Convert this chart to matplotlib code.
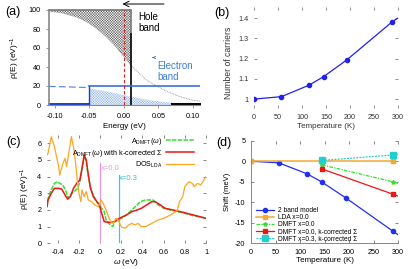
import matplotlib
matplotlib.use("Agg")
import matplotlib.pyplot as plt

plt.rcParams['font.family'] = ['Liberation Sans', 'DejaVu Sans']
plt.rcParams['hatch.linewidth'] = 0.3
plt.rcParams['mathtext.fontset'] = 'custom'
plt.rcParams['mathtext.rm'] = 'Liberation Sans'
plt.rcParams['mathtext.it'] = 'Liberation Sans:italic'

# ---------------- panel (a) data ----------------
E_fermi = [-0.11, -0.10, -0.09, -0.08, -0.07, -0.06, -0.05, -0.04, -0.03, -0.02, -0.01,
           0.0, 0.01, 0.02, 0.03, 0.04, 0.05, 0.06, 0.07, 0.08, 0.09, 0.10, 0.11]
occ_hole = [99, 98, 97, 95, 93, 90, 86, 81, 75, 68, 60,
            51, 42, 35, 28, 23, 19, 15, 12, 9, 7, 5, 4]
E_el = [-0.05, -0.04, -0.03, -0.02, -0.01, 0.0, 0.01, 0.02, 0.03, 0.04, 0.05,
        0.06, 0.07, 0.08, 0.09, 0.10, 0.11]
occ_el = [17.5, 16.2, 15.0, 13.6, 12.0, 10.5, 8.8, 7.3, 6.0, 4.8, 3.8,
          3.0, 2.3, 1.8, 1.4, 1.0, 0.8]
hole_edge = 0.01
el_edge = -0.05
hole_dos = 100
el_dos = 20

# ---------------- panel (b) data ----------------
T_b = [0, 57, 115, 145, 193, 288, 300]
N_b = [1.0, 1.012, 1.069, 1.111, 1.193, 1.382, 1.40]

# ---------------- panel (c) data ----------------
w_lda = [-0.5, -0.49, -0.46, -0.43, -0.39, -0.38, -0.35, -0.33, -0.315, -0.29, -0.27, -0.245,
         -0.23, -0.21, -0.195, -0.18, -0.17, -0.15, -0.13, -0.11, -0.08, -0.05, -0.016, 0.01,
         0.03, 0.057, 0.08, 0.10, 0.126, 0.15, 0.17, 0.205, 0.24, 0.27, 0.30, 0.33, 0.36,
         0.39, 0.43, 0.46, 0.49, 0.52, 0.55, 0.60, 0.65, 0.69, 0.73, 0.75, 0.78, 0.80, 0.84,
         0.87, 0.89, 0.92, 0.95, 0.98, 1.0]
dos_lda = [5.3, 5.4, 6.4, 5.8, 4.6, 4.1, 4.8, 5.1, 4.6, 5.6, 6.4, 5.6,
           4.8, 3.5, 2.9, 2.5, 3.2, 2.8, 3.1, 2.6, 2.5, 2.3, 2.2, 2.6,
           2.4, 2.0, 1.6, 1.3, 1.2, 1.5, 1.4, 0.96, 0.9, 1.1, 1.2, 1.1, 1.2,
           1.0, 1.0, 1.1, 1.2, 1.3, 1.4, 1.5, 1.65, 1.8, 2.0, 2.5, 2.8, 3.4, 3.7,
           3.6, 3.4, 3.6, 3.5, 3.8, 4.0]
w_dmft = [-0.5, -0.49, -0.46, -0.43, -0.40, -0.38, -0.35, -0.32, -0.30, -0.28, -0.245, -0.21,
          -0.19, -0.17, -0.15, -0.13, -0.12, -0.095, -0.07, -0.04, -0.006, 0.016, 0.04,
          0.057, 0.08, 0.10, 0.12, 0.14, 0.17, 0.205, 0.25, 0.30, 0.35, 0.38, 0.43, 0.47,
          0.50, 0.55, 0.60, 0.66, 0.73, 0.80, 0.88, 0.95, 1.0]
a_dmft = [2.2, 2.7, 3.2, 3.6, 3.7, 3.6, 3.5, 3.1, 2.7, 2.9, 3.1, 3.3,
          3.7, 4.4, 5.1, 5.0, 4.4, 3.5, 3.0, 2.6, 2.3, 2.1, 1.9,
          1.4, 1.2, 1.1, 1.0, 1.3, 1.4, 1.5, 1.7, 2.0, 2.3, 2.5, 2.6, 2.6,
          2.6, 2.3, 2.1, 2.0, 1.9, 1.8, 1.65, 1.57, 1.5]
w_kc = [-0.5, -0.49, -0.46, -0.43, -0.39, -0.36, -0.33, -0.305, -0.28, -0.25, -0.22, -0.19,
        -0.17, -0.15, -0.13, -0.11, -0.09, -0.063, -0.03, -0.006, 0.016, 0.04, 0.07, 0.10,
        0.135, 0.17, 0.205, 0.25, 0.30, 0.35, 0.39, 0.44, 0.49, 0.52, 0.57, 0.615, 0.69,
        0.79, 0.88, 1.0]
a_kc = [2.2, 2.6, 3.0, 3.3, 3.3, 3.25, 2.9, 2.65, 2.8, 3.3, 3.6, 3.8,
        4.5, 5.3, 5.0, 4.1, 3.3, 2.8, 2.5, 2.3, 1.8, 1.3, 1.27, 1.25,
        1.3, 1.45, 1.57, 1.7, 1.9, 2.0, 2.1, 2.3, 2.5, 2.5, 2.3, 2.1, 2.0,
        1.85, 1.7, 1.5]
x00_pos, x00_top = 0.0, 4.8
x03_pos, x03_top = 0.175, 4.1

# ---------------- panel (d) data ----------------
T_2band = [0, 57, 115, 145, 193, 289, 300]
S_2band = [0, -0.4, -3.1, -5.1, -8.9, -17.0, -17.9]
T_lda = [0, 289]
S_lda = [0, 0]
T_dmft = [145, 289, 300]
S_dmft0 = [-0.9, -5.0, -5.4]
S_dmft0k = [-1.9, -8.0, -8.5]
S_dmft3k = [0.2, 1.5, 1.7]

W, H = 415, 269
fig = plt.figure(figsize=(W / 100, H / 100), dpi=100)


def rect(l, r, t, b):
    return [l / W, 1 - b / H, (r - l) / W, (b - t) / H]


TS = 5.2
# ================= (a) =================
axa = fig.add_axes(rect(49, 200, 10, 105))
axa.set_xlim(-0.108, 0.11)
axa.set_ylim(0, 100)
Eh = [e for e in E_fermi if e <= hole_edge + 1e-9]
vh = occ_hole[:len(Eh)]
axa.fill_between(Eh, vh, hole_dos, facecolor='none', edgecolor='#555555',
                 hatch='x' * 13, linewidth=0)
axa.fill_between(E_el, 0, occ_el, facecolor='none', edgecolor='#8ab0ee',
                 hatch='x' * 13, linewidth=0)
axa.plot(E_fermi, occ_hole, color='#888888', lw=0.6, ls=(0, (1, 1)))
axa.plot([-0.108, hole_edge], [hole_dos, hole_dos], color='#777777', lw=1.2, clip_on=False)
axa.plot([hole_edge, hole_edge], [75, hole_dos], color='#777777', lw=1.2)
axa.plot([hole_edge, hole_edge], [0, 75], color='black', lw=1.2)
axa.plot([-0.108, el_edge], [0.6, 0.6], color='#1a3fd0', lw=1.4, clip_on=False)
axa.plot([el_edge, el_edge], [0, el_dos], color='#1a3fd0', lw=1.0)
axa.plot([el_edge, 0.11], [el_dos, el_dos], color='#3a6fe0', lw=1.2)
axa.plot([-0.108, el_edge], [19.6, 18.4], color='#4a7fe6', lw=0.8, ls=(0, (6, 3)))
axa.plot([0.07, 0.11], [0.6, 0.6], color='black', lw=1.4, clip_on=False)
axa.plot([0, 0], [0, 100], color='#e02020', lw=0.8, ls=(0, (3, 2)))
axa.annotate('', xy=(-0.006, 106.3), xytext=(0.062, 106.3), annotation_clip=False,
             arrowprops=dict(arrowstyle='->', color='black', lw=0.7))
axa.annotate('', xy=(0.037, 50), xytext=(0.046, 50), annotation_clip=False,
             arrowprops=dict(arrowstyle='->', color='#3d7be0', lw=0.7, mutation_scale=4))
axa.text(0.021, 98, 'Hole\nband', fontsize=7, va='top', ha='left', linespacing=1.15)
axa.text(0.049, 46, 'Electron\nband', fontsize=7, va='top', ha='left', color='#3d7be0',
         linespacing=1.15)
for s in ['top', 'right']:
    axa.spines[s].set_visible(False)
axa.spines['left'].set_color('#888888')
axa.spines['left'].set_linewidth(1.2)
axa.spines['bottom'].set_color('#888888')
axa.spines['bottom'].set_linewidth(0.8)
axa.set_xticks([-0.10, -0.05, 0.0, 0.05, 0.10])
axa.set_xticklabels(['-0.10', '-0.05', '0.00', '0.05', '0.10'])
axa.set_yticks([0, 20, 40, 60, 80, 100])
axa.tick_params(labelsize=TS, length=2, width=0.6, color='#888888', pad=4)
axa.set_xlabel('Energy (eV)', fontsize=5.8, labelpad=2)
axa.set_ylabel('ρ(E) (eV)$^{-1}$', fontsize=6, labelpad=5)
fig.text(5 / W, 1 - 12 / H, '(a)', fontsize=9, va='center', ha='left')

# ================= (b) =================
axb = fig.add_axes(rect(254, 398, 7, 108))
axb.set_xlim(0, 300)
axb.set_ylim(0.956, 1.455)
axb.plot(T_b, N_b, color='#2020f0', lw=0.9, marker='o', ms=3, markevery=list(range(6)))
for s in axb.spines.values():
    s.set_visible(False)
axb.set_xticks([0, 50, 100, 150, 200, 250, 300])
axb.set_yticks([1.0, 1.1, 1.2, 1.3, 1.4])
axb.set_yticklabels(['1', '1.1', '1.2', '1.3', '1.4'])
axb.tick_params(direction='in', top=True, right=True, labelsize=TS, length=2,
                width=0.5, color='#666666', labelcolor='#333333', pad=4)
axb.set_xlabel('Temperature (K)', fontsize=5.8, labelpad=2, color='#333333')
axb.set_ylabel('Number of carriers', fontsize=6.2, labelpad=3, color='#333333')
axb.yaxis.set_label_coords(-0.145, 0.45)
fig.text(214 / W, 1 - 13 / H, '(b)', fontsize=9, va='center', ha='left')

# ================= (c) =================
axc = fig.add_axes(rect(47, 206, 135, 243.3))
axc.set_xlim(-0.5, 1.0)
axc.set_ylim(0, 6.5)
axc.plot([x00_pos, x00_pos], [0, x00_top], color='#e896e0', lw=0.9)
axc.plot([x03_pos, x03_pos], [0, x03_top], color='#30d0d8', lw=0.9)
axc.text(x00_pos + 0.005, x00_top - 0.5, 'x=0.0', color='#e896e0', fontsize=5.5, va='bottom')
axc.text(x03_pos + 0.005, x03_top - 0.45, 'x=0.3', color='#30c8d0', fontsize=5.5, va='bottom')
lg, = axc.plot(w_dmft, a_dmft, color='#33e033', lw=1.1, ls=(0, (3, 0.8)),
               label=r'A$_{\rm DMFT}$($\omega$)')
lr, = axc.plot(w_kc, a_kc, color='#ee1515', lw=1.1,
               label=r'A$_{\rm DMFT}$($\omega$) with k-corrected Σ')
lo, = axc.plot(w_lda, dos_lda, color='#ffa520', lw=0.9, label=r'DOS$_{\rm LDA}$')
leg = axc.legend(handles=[lg, lr, lo], loc='upper right', bbox_to_anchor=(0.955, 1.04),
                 frameon=False, fontsize=5.2, markerfirst=False, handlelength=3.9,
                 labelspacing=0.15, handletextpad=0.4, borderpad=0.2)
for s in axc.spines.values():
    s.set_visible(False)
axc.set_xticks([-0.4, -0.2, 0, 0.2, 0.4, 0.6, 0.8, 1.0])
axc.set_xticklabels(['-0.4', '-0.2', '0', '0.2', '0.4', '0.6', '0.8', '1'])
axc.set_yticks([0, 1, 2, 3, 4, 5, 6])
axc.set_yticklabels(['0', '1', '2', '3', '4', '5', '6'])
axc.tick_params(direction='in', top=True, right=True, labelsize=TS, length=2,
                width=0.5, color='#555555', pad=4)
axc.set_xlabel(r'$\omega$ (eV)', fontsize=6, labelpad=0.5)
axc.set_ylabel('ρ(E) (eV)$^{-1}$', fontsize=6, labelpad=4)
fig.text(6 / W, 1 - 142 / H, '(c)', fontsize=9, va='center', ha='left')

# ================= (d) =================
axd = fig.add_axes(rect(251, 398, 140.7, 243.3))
axd.set_xlim(0, 300)
axd.set_ylim(-20, 5)
axd.plot(T_2band, S_2band, color='#2030f0', lw=0.9, marker='o', ms=3,
         markevery=list(range(6)), label='2 band model')
axd.plot(T_lda, S_lda, color='#f5a830', lw=1.1, marker='s', ms=3, label='LDA x=0.0')
axd.plot(T_dmft, S_dmft0, color='#33e033', lw=0.9, ls=(0, (3, 1, 1, 1)), marker='*', ms=3,
         markevery=[0, 1], label='DMFT x=0.0')
axd.plot(T_dmft, S_dmft0k, color='#ee1515', lw=0.9, marker='s', ms=2.5,
         markevery=[0, 1], label='DMFT x=0.0, k-corrected Σ')
axd.plot(T_dmft, S_dmft3k, color='#20d0d0', lw=0.9, ls=(0, (1.5, 1)), marker='s', ms=4,
         markevery=[0, 1], label='DMFT x=0.3, k-corrected Σ')
axd.legend(loc='upper left', bbox_to_anchor=(0.0, 0.4), frameon=False, fontsize=4.8,
           handlelength=2.8, labelspacing=0.02, handletextpad=0.6, borderpad=0.2)
for s in ['top', 'right']:
    axd.spines[s].set_visible(False)
for s in ['left', 'bottom']:
    axd.spines[s].set_color('#888888')
    axd.spines[s].set_linewidth(0.7)
axd.set_xticks([0, 50, 100, 150, 200, 250, 300])
axd.set_yticks([5, 0, -5, -10, -15, -20])
axd.set_yticklabels(['5', '0', '-5', '-10', '-15', '-20'])
axd.tick_params(direction='in', top=True, right=True, labelsize=TS, length=2,
                width=0.5, color='#555555', pad=4)
axd.set_xlabel('Temperature (K)', fontsize=5.8, labelpad=1)
axd.set_ylabel('Shift (meV)', fontsize=5.5, labelpad=3)
fig.text(216 / W, 1 - 143 / H, '(d)', fontsize=9, va='center', ha='left')

fig.savefig('out.png', dpi=100)
